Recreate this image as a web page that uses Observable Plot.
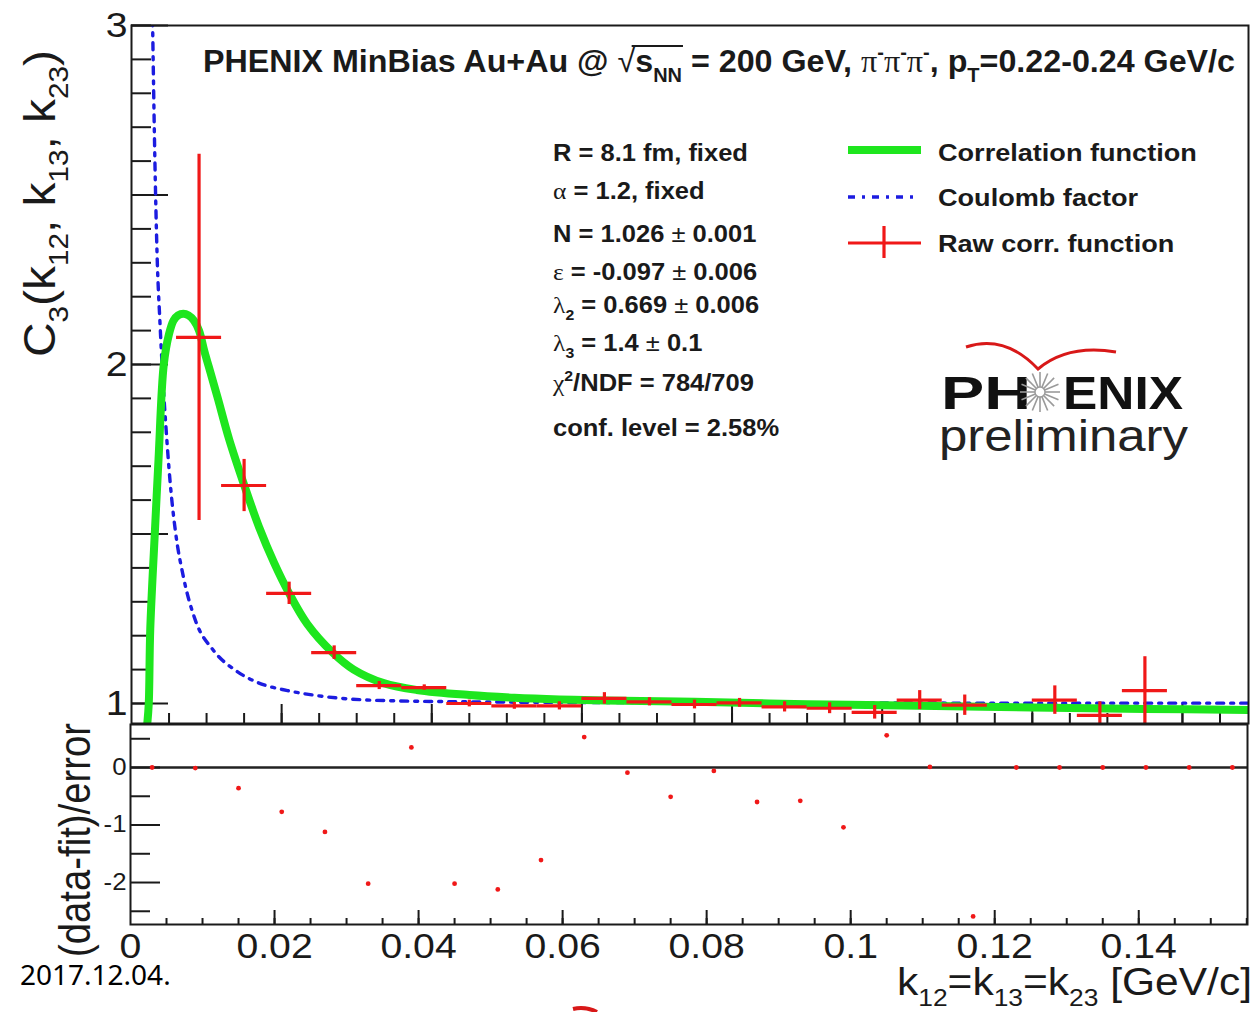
<!DOCTYPE html>
<html><head><meta charset="utf-8">
<script src="https://cdn.jsdelivr.net/npm/d3@7"></script>
<script src="https://cdn.jsdelivr.net/npm/@observablehq/plot@0.6"></script>
<style>
body{margin:0;background:#fff}
#wrap{position:relative;width:1254px;height:1012px;overflow:hidden;background:#fff}
#wrap svg{position:absolute;left:0}
</style>
</head><body><div id="wrap"></div>
<script>
// ---------- data ----------
const rawK   = [0.009, 0.015, 0.021, 0.027, 0.033, 0.039, 0.045, 0.051, 0.057, 0.063, 0.069, 0.075, 0.081, 0.087, 0.093, 0.099, 0.105, 0.111, 0.123, 0.129, 0.135];
const rawC   = [2.08, 1.643, 1.325, 1.150, 1.053, 1.047, 1.000, 0.993, 0.993, 1.015, 1.005, 0.997, 1.002, 0.990, 0.986, 0.974, 1.010, 0.995, 1.010, 0.965, 1.038];
const rawErr = [0.54, 0.077, 0.033, 0.020, 0.012, 0.008, 0.010, 0.010, 0.012, 0.017, 0.012, 0.013, 0.013, 0.015, 0.016, 0.020, 0.028, 0.030, 0.042, 0.040, 0.100];
const binHalfWidth = 0.003;

const fitK = [0.0021, 0.0023, 0.0025, 0.0031, 0.0036, 0.0043, 0.0050, 0.0056, 0.0062, 0.0069, 0.0076, 0.0083, 0.0090, 0.0097, 0.0106, 0.0115, 0.0130, 0.0150, 0.0170, 0.0190, 0.0210, 0.0234, 0.0268, 0.0296, 0.0336, 0.0380, 0.045, 0.051, 0.057, 0.063, 0.075, 0.090, 0.105, 0.120, 0.135, 0.149];
const fitC = [0.94, 1.00, 1.22, 1.50, 1.72, 2.00, 2.09, 2.13, 2.145, 2.15, 2.145, 2.13, 2.10, 2.04, 1.97, 1.90, 1.78, 1.645, 1.52, 1.415, 1.325, 1.235, 1.15, 1.10, 1.06, 1.04, 1.025, 1.017, 1.012, 1.009, 1.005, 0.998, 0.993, 0.988, 0.984, 0.981];

const coulK = [0.0028, 0.0031, 0.0034, 0.0038, 0.0042, 0.0047, 0.0052, 0.0059, 0.0069, 0.0085, 0.0109, 0.0139, 0.0168, 0.0208, 0.0248, 0.0292, 0.0349, 0.045, 0.06, 0.09, 0.12, 0.149];
const coulC = [3.02, 2.62, 2.33, 2.12, 1.95, 1.78, 1.64, 1.50, 1.375, 1.246, 1.157, 1.097, 1.062, 1.038, 1.023, 1.013, 1.008, 1.005, 1.003, 1.002, 1.001, 1.001];

const residK = [0.003, 0.009, 0.015, 0.021, 0.027, 0.033, 0.039, 0.045, 0.051, 0.057, 0.063, 0.069, 0.075, 0.081, 0.087, 0.093, 0.099, 0.105, 0.111, 0.117, 0.123, 0.129, 0.135, 0.141, 0.147, 0.153];
const residV = [0, -0.01, -0.36, -0.77, -1.12, -2.02, 0.35, -2.02, -2.12, -1.61, 0.53, -0.09, -0.51, -0.06, -0.60, -0.58, -1.04, 0.56, 0.01, -2.59, 0, 0, 0, 0, 0, 0];

// ticks
const topYLabels = [1, 2, 3];
const topYTickText = ["1", "2", "3"];
const topYMajor = [1, 1.5, 2, 2.5, 3];
const topYMinor = d3.range(10, 31).map(i => i / 10);
const xLabelTicks = [0, 0.02, 0.04, 0.06, 0.08, 0.1, 0.12, 0.14];
const xTickLabels = ["0", "0.02", "0.04", "0.06", "0.08", "0.1", "0.12", "0.14"];
const xMajor = [0.02, 0.04, 0.06, 0.08, 0.1, 0.12, 0.14];
const xMinor = d3.range(1, 32).map(i => i * 0.005);
const botYLabels = [0, -1, -2];
const botYTickText = ["0", "-1", "-2"];
const botYMajor = [0, -1, -2];
const botYMinor = [0.5, -0.5, -1.5, -2.5];

const raw = rawK.map((k, i) => ({k, c: rawC[i], e: rawErr[i]}));
const fit = fitK.map((k, i) => ({k, c: fitC[i]}));
const coul = coulK.map((k, i) => ({k, c: coulC[i]}));
const resid = residK.map((k, i) => ({k, r: residV[i]}));

const SANS = "'Liberation Sans', Arial, Helvetica, sans-serif";
const SERIF = "'Liberation Serif', 'Times New Roman', serif";
const RED = "#f01818", GREEN = "#1ee61e", BLUE = "#1c1ce0", INK = "#1a1a1a";

const wrap = document.getElementById("wrap");

// ---------- top panel ----------
const topXDomain = [0, 0.1488];
const topFrameW = 1254 - 131 - 6, topFrameH = 724 - 25 - 1;
const topPlot = Plot.plot({
  width: 1254, height: 724,
  marginLeft: 131, marginRight: 6, marginTop: 25, marginBottom: 1,
  x: {domain: topXDomain, axis: null},
  y: {domain: [0.941, 3], axis: null},
  style: {background: "transparent", fontFamily: SANS, color: INK, overflow: "visible"},
  marks: [
    Plot.ruleY(topYMinor, {stroke: INK, strokeWidth: 2, insetRight: topFrameW - 20}),
    Plot.ruleY(topYMajor, {stroke: INK, strokeWidth: 2, insetRight: topFrameW - 37}),
    Plot.ruleX(xMinor.filter(v => v < topXDomain[1]), {stroke: INK, strokeWidth: 2, insetTop: topFrameH - 10}),
    Plot.ruleX(xMajor, {stroke: INK, strokeWidth: 2, insetTop: topFrameH - 19}),
    Plot.line(coul, {x: "k", y: "c", stroke: BLUE, strokeWidth: 3.4, strokeDasharray: "7,7,3,7", curve: "monotone-x", clip: true}),
    Plot.line(fit, {x: "k", y: "c", stroke: GREEN, strokeWidth: 8, curve: "catmull-rom", clip: true}),
    Plot.ruleY(raw, {y: "c", x1: d => d.k - binHalfWidth, x2: d => d.k + binHalfWidth, stroke: RED, strokeWidth: 3.2, clip: true}),
    Plot.ruleX(raw, {x: "k", y1: d => d.c - d.e, y2: d => d.c + d.e, stroke: RED, strokeWidth: 3.2, clip: true}),
    Plot.axisY({ticks: topYLabels, tickFormat: d => topYTickText[topYLabels.indexOf(d)], tickSize: 0, tickPadding: 4, fontSize: 35, label: null}),
    Plot.frame({stroke: INK, strokeWidth: 2})
  ]
});
topPlot.style.top = "0px";
wrap.appendChild(topPlot);

// ---------- bottom panel ----------
const botXDomain = [0, 0.1551];
const botFrameW = 1254 - 130 - 7, botFrameH = 288 - 0 - 88;
const botPlot = Plot.plot({
  width: 1254, height: 288,
  marginLeft: 130, marginRight: 7, marginTop: 0, marginBottom: 88,
  x: {domain: botXDomain, axis: null},
  y: {domain: [-2.73, 0.748], axis: null},
  style: {background: "transparent", fontFamily: SANS, color: INK, overflow: "visible"},
  marks: [
    Plot.ruleY([0], {stroke: "#222", strokeWidth: 2.5}),
    Plot.ruleY(botYMinor, {stroke: INK, strokeWidth: 2, insetRight: botFrameW - 20}),
    Plot.ruleY(botYMajor, {stroke: INK, strokeWidth: 2, insetRight: botFrameW - 30}),
    Plot.ruleX(xMinor.filter(v => v < botXDomain[1]), {stroke: INK, strokeWidth: 2, insetTop: botFrameH - 6}),
    Plot.ruleX(xMajor, {stroke: INK, strokeWidth: 2, insetTop: botFrameH - 14}),
    Plot.dot(resid, {x: "k", y: "r", r: 2.4, fill: RED, stroke: null, clip: true}),
    Plot.axisX({ticks: xLabelTicks, tickFormat: d => xTickLabels[xLabelTicks.indexOf(d)], tickSize: 0, tickPadding: 9, fontSize: 35, label: null}),
    Plot.axisY({ticks: botYLabels, tickFormat: d => botYTickText[botYLabels.indexOf(d)], tickSize: 0, tickPadding: 4, fontSize: 23, label: null}),
    Plot.frame({stroke: INK, strokeWidth: 2})
  ]
});
botPlot.style.top = "724px";
wrap.appendChild(botPlot);

// widen tick labels slightly (the reference is horizontally stretched)
function stretch(svg, sel, s) {
  svg.querySelectorAll(sel).forEach(t => {
    const L = t.getComputedTextLength();
    if (L > 0) {
      t.setAttribute("textLength", (L * s).toFixed(2));
      t.setAttribute("lengthAdjust", "spacingAndGlyphs");
    }
  });
}
stretch(topPlot, 'g[aria-label="y-axis tick label"] text', 1.12);
stretch(botPlot, 'g[aria-label="y-axis tick label"] text', 1.12);
stretch(botPlot, 'g[aria-label="x-axis tick label"] text', 1.12);

// ---------- overlay: titles, legend, fit parameters, logo ----------
const ov = d3.select(wrap).append("svg").attr("width", 1254).attr("height", 1012).style("top", "0px").style("overflow", "visible");

function rich(parent, x, y, F, parts, attrs = {}) {
  const t = parent.append("text").attr("x", x).attr("y", y).attr("font-size", F).attr("font-family", SANS).attr("fill", INK);
  Object.entries(attrs).forEach(([k, v]) => t.attr(k, v));
  let shift = 0;
  for (const p of parts) {
    const o = typeof p === "string" ? {s: p} : p;
    const target = o.sub ? F * 0.3 : o.sup ? -F * 0.42 : 0;
    const ts = t.append("tspan").attr("dy", target - shift).text(o.s);
    if (o.sub || o.sup) ts.attr("font-size", F * 0.62);
    if (o.serif) ts.attr("font-family", SERIF);
    if (o.w) ts.attr("font-weight", o.w);
    shift = target;
  }
  return t;
}

// title
const title = rich(ov, 203, 72, 32, [
  "PHENIX MinBias Au+Au @ ", {s: "√", w: "normal"}, "s", {s: "NN", sub: true}, " = 200 GeV, ",
  {s: "π", serif: true, w: "normal"}, {s: "-", sup: true}, {s: "π", serif: true, w: "normal"}, {s: "-", sup: true},
  {s: "π", serif: true, w: "normal"}, {s: "-", sup: true}, ", p", {s: "T", sub: true}, "=0.22-0.24 GeV/c"
], {"font-weight": "bold", textLength: 1032, lengthAdjust: "spacingAndGlyphs"});
try {
  const txt = title.node().textContent;
  const i0 = txt.indexOf("√"), i1 = txt.indexOf("NN") + 1;
  const e0 = title.node().getExtentOfChar(i0), e1 = title.node().getExtentOfChar(i1);
  ov.append("line").attr("x1", e0.x + e0.width * 0.8).attr("x2", e1.x + e1.width + 1)
    .attr("y1", e0.y + 3).attr("y2", e0.y + 3).attr("stroke", INK).attr("stroke-width", 2);
} catch (e) {}

// fit parameters
const pg = ov.append("g");
const PF = 23;
const pm = (s) => ({s, w: "normal"});
const paramLines = [
  [161, ["R = 8.1 fm, fixed"]],
  [199, [{s: "α", serif: true, w: "normal"}, " = 1.2, fixed"]],
  [242, ["N = 1.026 ", pm("±"), " 0.001"]],
  [280, [{s: "ε", serif: true, w: "normal"}, " = -0.097 ", pm("±"), " 0.006"]],
  [313, [{s: "λ", serif: true, w: "normal"}, {s: "2", sub: true}, " = 0.669 ", pm("±"), " 0.006"]],
  [351, [{s: "λ", serif: true, w: "normal"}, {s: "3", sub: true}, " = 1.4 ", pm("±"), " 0.1"]],
  [391, [{s: "χ", serif: true, w: "normal"}, {s: "2", sup: true}, "/NDF = 784/709"]],
  [436, ["conf. level = 2.58%"]]
];
const pTexts = paramLines.map(([y, parts]) => rich(pg, 0, y, PF, parts, {"font-weight": "bold"}));
const ps = 195 / pTexts[0].node().getComputedTextLength();
pg.attr("transform", `translate(553,0) scale(${ps},1)`);

// legend
ov.append("line").attr("x1", 848).attr("x2", 921).attr("y1", 150).attr("y2", 150).attr("stroke", GREEN).attr("stroke-width", 8);
ov.append("line").attr("x1", 848).attr("x2", 919).attr("y1", 197).attr("y2", 197).attr("stroke", BLUE).attr("stroke-width", 3.4).attr("stroke-dasharray", "7,7,3,7");
ov.append("line").attr("x1", 848).attr("x2", 921).attr("y1", 243).attr("y2", 243).attr("stroke", RED).attr("stroke-width", 3.2);
ov.append("line").attr("x1", 884).attr("x2", 884).attr("y1", 226).attr("y2", 258).attr("stroke", RED).attr("stroke-width", 3.2);
const lg = ov.append("g");
const lt = [[161, "Correlation function"], [206, "Coulomb factor"], [252, "Raw corr. function"]]
  .map(([y, s]) => rich(lg, 0, y, 24, [s], {"font-weight": "bold"}));
const ls = 259 / lt[0].node().getComputedTextLength();
lg.attr("transform", `translate(938,0) scale(${ls},1)`);

// PHENIX preliminary logo
ov.append("path").attr("d", "M966,347 Q1005,334 1038,369 Q1068,344 1116,352").attr("fill", "none").attr("stroke", "#d81818").attr("stroke-width", 3);
rich(ov, 941, 409, 47, ["PH"], {"font-weight": "bold", fill: "#111", textLength: 90, lengthAdjust: "spacingAndGlyphs"});
rich(ov, 1063, 409, 47, ["ENIX"], {"font-weight": "bold", fill: "#111", textLength: 120, lengthAdjust: "spacingAndGlyphs"});
const star = ov.append("g").attr("transform", "translate(1040,392)");
d3.range(16).forEach(i => {
  const a = i * Math.PI / 8;
  star.append("line").attr("x1", 5 * Math.cos(a)).attr("y1", 5 * Math.sin(a)).attr("x2", 20 * Math.cos(a)).attr("y2", 20 * Math.sin(a))
    .attr("stroke", "#9a9a9a").attr("stroke-width", 1.6);
});
star.append("circle").attr("r", 5).attr("fill", "none").attr("stroke", "#9a9a9a").attr("stroke-width", 1.4);
rich(ov, 939, 451, 44, ["preliminary"], {fill: "#222", textLength: 249, lengthAdjust: "spacingAndGlyphs"});

// axis titles
const yt = ov.append("g").attr("transform", "translate(55,357) scale(1.1,1) rotate(-90)");
rich(yt, 0, 0, 40, ["C", {s: "3", sub: true}, "(k", {s: "12", sub: true}, ", k", {s: "13", sub: true}, ", k", {s: "23", sub: true}, ")"],
  {textLength: 307, lengthAdjust: "spacingAndGlyphs"});
const yb = ov.append("g").attr("transform", "translate(90,957) scale(1.15,1) rotate(-90)");
rich(yb, 0, 0, 38, ["(data-fit)/error"], {textLength: 234, lengthAdjust: "spacingAndGlyphs"});
rich(ov, 897, 995, 38, ["k", {s: "12", sub: true}, "=k", {s: "13", sub: true}, "=k", {s: "23", sub: true}, " [GeV/c]"],
  {textLength: 355, lengthAdjust: "spacingAndGlyphs"});

// slide date and stray logo fragment
rich(ov, 20, 985, 28, ["2017.12.04."], {"font-family": "'Noto Sans', 'Open Sans', sans-serif", fill: "#000"});
ov.append("path").attr("d", "M573,1009 Q585,1006 597,1012").attr("fill", "none").attr("stroke", "#d81818").attr("stroke-width", 4);
</script>
</body></html>
